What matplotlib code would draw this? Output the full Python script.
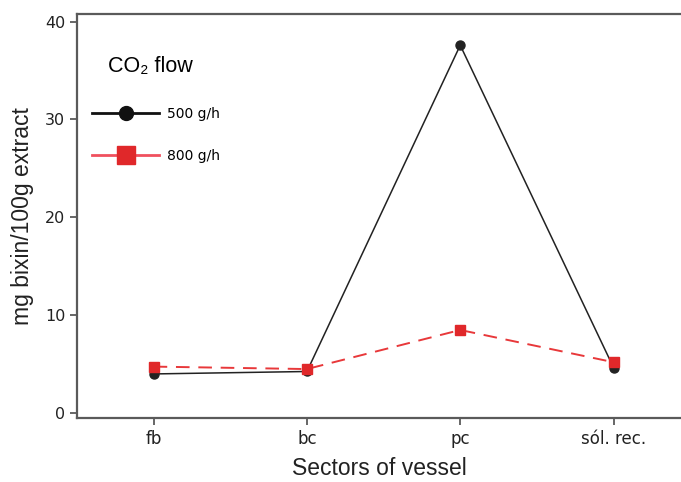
import matplotlib
matplotlib.use("Agg")
import matplotlib.pyplot as plt
from matplotlib.lines import Line2D

sectors = ["fb", "bc", "pc", "sól. rec."]
flow_500 = [3.95, 4.2, 37.6, 4.6]
flow_800 = [4.7, 4.45, 8.45, 5.15]
series_labels = ["500 g/h", "800 g/h"]
yticks = [0, 10, 20, 30, 40]

fig = plt.figure(figsize=(6.81, 4.82), dpi=100)
ax = fig.add_axes([0.113, 0.133, 0.887, 0.838])

x = list(range(len(sectors)))
ax.plot(x, flow_500, color="#222222", lw=1.1, marker="o", ms=6.5, zorder=3)
ax.plot(x, flow_800, color="#e8383a", lw=1.4, ls=(0, (7, 4.5)), marker="s", ms=7.5,
        mfc="#e0282a", mec="#e0282a", zorder=4)

ax.set_xlim(-0.5, 3.44)
ax.set_ylim(-0.55, 40.8)
ax.set_xticks(x)
ax.set_xticklabels(sectors, family="DejaVu Sans", fontsize=12, color="#222222")
ax.set_yticks(yticks)
ax.set_yticklabels([str(v) for v in yticks], family="DejaVu Sans", fontsize=11.5,
                   color="#222222")

for side in ["left", "bottom", "top"]:
    ax.spines[side].set_color("#5a5a5a")
    ax.spines[side].set_linewidth(1.6)
ax.spines["right"].set_visible(False)
ax.tick_params(axis="both", direction="out", length=5, width=1.3, color="#5a5a5a")

ax.set_xlabel("Sectors of vessel", family="Liberation Sans", fontsize=16.5,
              color="#222222", labelpad=7)
ax.set_ylabel("mg bixin/100g extract", family="Liberation Sans", fontsize=16.5,
              color="#222222", labelpad=8)

legend_handles = [
    Line2D([], [], color="#111111", lw=2, marker="o", ms=10),
    Line2D([], [], color="#f0505e", lw=2, marker="s", ms=13,
           mfc="#e0282a", mec="#e0282a"),
]
leg = ax.legend(legend_handles, series_labels, loc="upper left",
                bbox_to_anchor=(0.005, 0.928), frameon=False, title="CO₂ flow",
                handlelength=4.8, labelspacing=2.0, handletextpad=0.55,
                prop={"family": "DejaVu Sans", "size": 10},
                title_fontproperties={"family": "Liberation Sans", "size": 15.5})
leg._legend_box.align = "left"
leg._legend_box.sep = 22
leg.get_title().set_position((16, 0))

fig.savefig("out.png", dpi=100)
